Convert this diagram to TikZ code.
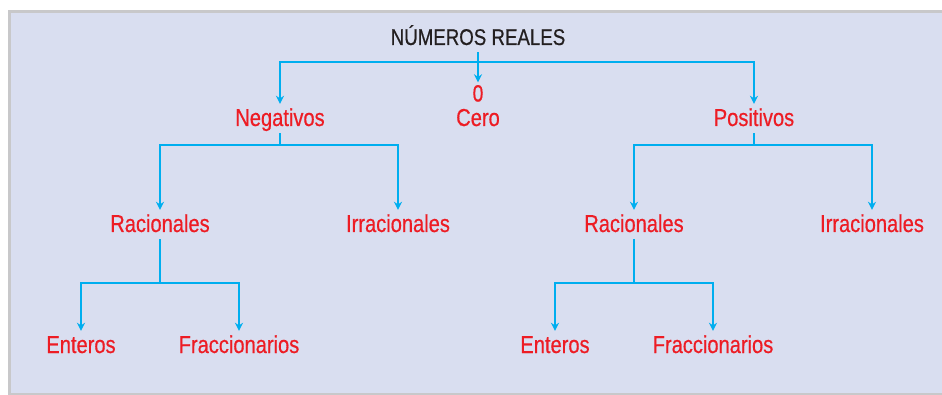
\documentclass[tikz,border=0pt]{standalone}
\usepackage{fontspec}
\setmainfont[FakeStretch=0.82,FakeBold=0.5]{Liberation Sans}
\usetikzlibrary{arrows.meta}
\definecolor{panel}{RGB}{217,222,240}
\definecolor{frame}{RGB}{200,200,202}
\definecolor{cyanline}{RGB}{0,174,239}
\definecolor{redtext}{RGB}{237,28,36}
\definecolor{darktext}{RGB}{35,31,32}
\tikzset{
  lbl/.style={anchor=base, inner xsep=0pt, inner ysep=5pt, text height=17pt, text depth=2pt,
    font=\fontsize{24.5}{28}\selectfont, text=redtext},
  toplbl/.style={lbl, font=\fontsize{22.8}{27}\selectfont, text=darktext},
  conn/.style={draw=cyanline, line width=2.2pt},
  arr/.style={conn, -{Stealth[length=8pt,width=8pt]}},
}
\begin{document}
\begin{tikzpicture}[x=1pt,y=-1pt]
\useasboundingbox (0,0) rectangle (942,395);
\fill[frame] (8,10) rectangle (945,395);
\fill[panel] (11,13) rectangle (945,393);
% nodes
\node[toplbl] (nr) at (478,45) {NÚMEROS REALES};
\node[lbl, inner ysep=0pt, text height=19pt, text depth=0pt, font=\fontsize{23.5}{26}\selectfont] (zero) at (478,101.5) {0};
\node[lbl, inner ysep=0pt] (cero) at (478,126) {Cero};
\node[lbl] (neg) at (280,126) {Negativos};
\node[lbl] (pos) at (754,126) {Positivos};
\node[lbl] (racL) at (160,232) {Racionales};
\node[lbl] (irrL) at (398,232) {Irracionales};
\node[lbl] (racR) at (634,232) {Racionales};
\node[lbl] (irrR) at (872,232) {Irracionales};
\node[lbl] (entL) at (81,353) {Enteros};
\node[lbl] (fraL) at (239,353) {Fraccionarios};
\node[lbl] (entR) at (555,353) {Enteros};
\node[lbl] (fraR) at (713,353) {Fraccionarios};
% junctions
\coordinate (b0) at (478,62);
\coordinate (b1) at (280,145);
\coordinate (b2) at (754,145);
\coordinate (b3) at (160,283);
\coordinate (b4) at (634,283);
% connectors
\draw[conn] (nr.south) -- (b0);
\draw[arr] (b0) -| (neg.north);
\draw[arr] (b0) -| (pos.north);
\draw[arr] (b0) -- (zero.north);
\draw[conn] (neg.south) -- (b1);
\draw[arr] (b1) -| (racL.north);
\draw[arr] (b1) -| (irrL.north);
\draw[conn] (pos.south) -- (b2);
\draw[arr] (b2) -| (racR.north);
\draw[arr] (b2) -| (irrR.north);
\draw[conn] (racL.south) -- (b3);
\draw[arr] (b3) -| (entL.north);
\draw[arr] (b3) -| (fraL.north);
\draw[conn] (racR.south) -- (b4);
\draw[arr] (b4) -| (entR.north);
\draw[arr] (b4) -| (fraR.north);
\end{tikzpicture}
\end{document}
